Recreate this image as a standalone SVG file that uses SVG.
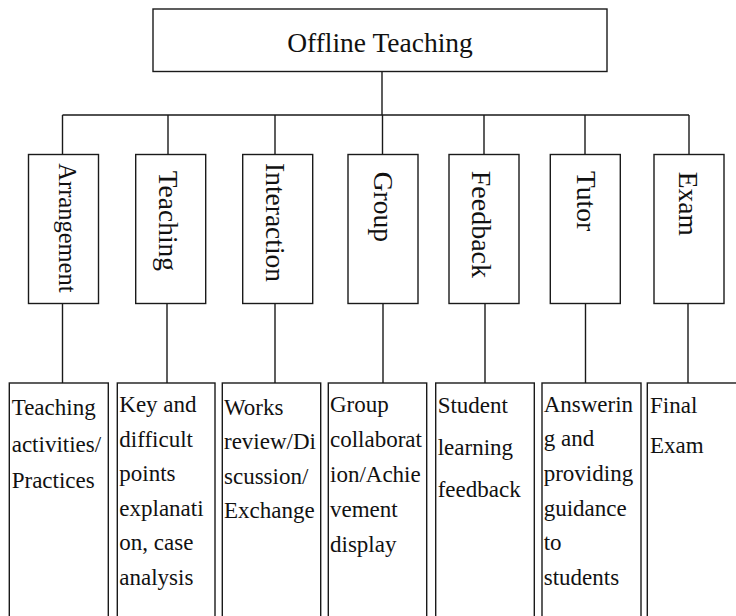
<svg xmlns="http://www.w3.org/2000/svg" width="736" height="616" viewBox="0 0 736 616">
<style>
.box{fill:#fff;stroke:#1a1a1a;stroke-width:1.4}
.ln{stroke:#1a1a1a;stroke-width:1.4;fill:none}
.t{font-family:"Liberation Serif","Times New Roman",serif;fill:#111}
.v{font-size:27.5px}
.b{font-size:23px}
</style>
<rect width="736" height="616" fill="#fff"/>
<g id="connectors">
<path class="ln" d="M382 71.5V115M62.5 115H689M62.5 115V154.5M168 115V154.5M275 115V154.5M382.5 115V154.5M484 115V154.5M585 115V154.5M689 115V154.5"/>
<path class="ln" d="M62.5 303.5V383M167 303.5V383M275 303.5V383M383 303.5V383M485 303.5V383M585.5 303.5V383M688 303.5V383"/>
</g>
<g id="root">
<rect class="box" x="153" y="9" width="454" height="62.5"/>
<text class="t" x="380" y="52" font-size="27.5" text-anchor="middle">Offline Teaching</text>
</g>
<g id="arrangement">
<rect class="box" x="28.5" y="154.5" width="70" height="149"/>
<text class="t" font-size="24.5" transform="translate(59.3,163.3) rotate(90)">Arrangement</text>
</g>
<g id="teaching">
<rect class="box" x="135.7" y="154.5" width="70" height="149"/>
<text class="t v" transform="translate(159,170.7) rotate(90)">Teaching</text>
</g>
<g id="interaction">
<rect class="box" x="242.7" y="154.5" width="70" height="149"/>
<text class="t v" transform="translate(266,163) rotate(90)">Interaction</text>
</g>
<g id="group">
<rect class="box" x="348" y="154.5" width="70" height="149"/>
<text class="t v" transform="translate(374,171.7) rotate(90)">Group</text>
</g>
<g id="feedback">
<rect class="box" x="449" y="154.5" width="70" height="149"/>
<text class="t" font-size="28" transform="translate(472,170.7) rotate(90)">Feedback</text>
</g>
<g id="tutor">
<rect class="box" x="550.3" y="154.5" width="70" height="149"/>
<text class="t v" transform="translate(577,171) rotate(90)">Tutor</text>
</g>
<g id="exam">
<rect class="box" x="654" y="154.5" width="70" height="149"/>
<text class="t v" transform="translate(679,171.7) rotate(90)">Exam</text>
</g>
<g id="d1">
<rect class="box" x="9.3" y="383" width="99" height="240"/>
<text class="t b" x="11.7" y="415">Teaching</text>
<text class="t b" x="11.7" y="451.7">activities/</text>
<text class="t b" x="11.7" y="488.3">Practices</text>
</g>
<g id="d2">
<rect class="box" x="117.3" y="383" width="97.7" height="240"/>
<text class="t b" x="119.3" y="412">Key and</text>
<text class="t b" x="119.3" y="446.5">difficult</text>
<text class="t b" x="119.3" y="481">points</text>
<text class="t b" x="119.3" y="515.5">explanati</text>
<text class="t b" x="119.3" y="550">on, case</text>
<text class="t b" x="119.3" y="584.5">analysis</text>
</g>
<g id="d3">
<rect class="box" x="222.3" y="383" width="98.4" height="240"/>
<text class="t b" x="224" y="415">Works</text>
<text class="t b" x="224" y="449.4">review/Di</text>
<text class="t b" x="224" y="483.8">scussion/</text>
<text class="t b" x="224" y="518.2">Exchange</text>
</g>
<g id="d4">
<rect class="box" x="328.3" y="383" width="98.4" height="240"/>
<text class="t b" x="330" y="411.7">Group</text>
<text class="t b" x="330" y="446.7">collaborat</text>
<text class="t b" x="330" y="481.7">ion/Achie</text>
<text class="t b" x="330" y="516.7">vement</text>
<text class="t b" x="330" y="551.7">display</text>
</g>
<g id="d5">
<rect class="box" x="435.7" y="383" width="98.6" height="240"/>
<text class="t b" x="437.7" y="413.3">Student</text>
<text class="t b" x="437.7" y="455">learning</text>
<text class="t b" x="437.7" y="496.7">feedback</text>
</g>
<g id="d6">
<rect class="box" x="542" y="383" width="99" height="240"/>
<text class="t b" x="543.7" y="411.7">Answerin</text>
<text class="t b" x="543.7" y="446.3">g and</text>
<text class="t b" x="543.7" y="480.9">providing</text>
<text class="t b" x="543.7" y="515.5">guidance</text>
<text class="t b" x="543.7" y="550.1">to</text>
<text class="t b" x="543.7" y="584.7">students</text>
</g>
<g id="d7">
<rect class="box" x="647.3" y="383" width="100" height="240"/>
<text class="t b" x="650" y="412.7">Final</text>
<text class="t b" x="650" y="453.3">Exam</text>
</g>
</svg>
